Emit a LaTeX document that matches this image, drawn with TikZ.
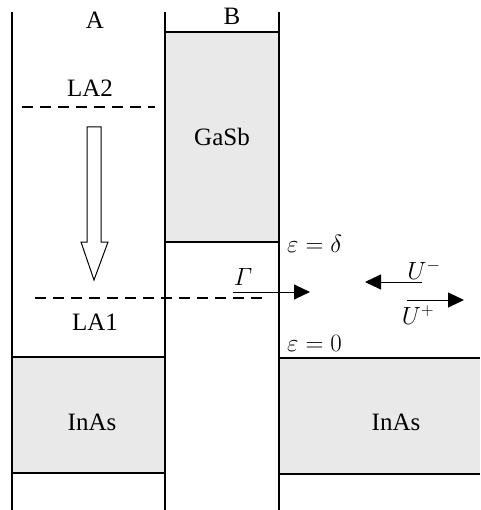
\documentclass[tikz,border=0pt]{standalone}
\usepackage{amsmath}
\usepackage{fontspec}
\setmainfont{Liberation Serif}
\usetikzlibrary{arrows.meta}

\begin{document}
\begin{tikzpicture}[x=1pt, y=-1pt,
  layer/.style={fill=gray!17},
  wall/.style={line width=1.6pt},
  level/.style={line width=1.8pt, dash pattern=on 11pt off 7pt},
  lbl/.style={font=\fontsize{25}{28}\selectfont, inner sep=0pt},
  flux/.style={-{Triangle[length=16pt, width=15pt]}, line width=0.9pt}]
  \useasboundingbox (0,0) rectangle (480,510);
  % gray bands
  \fill[layer] (165,32) rectangle (279,242);
  \fill[layer] (12,357) rectangle (165,473);
  \fill[layer] (279,358) rectangle (480,474);
  \draw[wall] (165,32) -- (279,32) (165,242) -- (279,242);
  \draw[wall] (12,357) -- (165,357) (12,473) -- (165,473);
  \draw[wall] (279,358) -- (480,358) (279,474) -- (480,474);
  % walls
  \foreach \x in {12,165,279}
    \draw[wall] (\x,12) -- (\x,510);
  % levels
  \draw[level] (22,107) -- (155,107);
  \draw[level] (35,298) -- (263,298);
  % hollow arrow
  \draw[line width=1pt, fill=white] (87,127) -- (101,127) -- (101,242) -- (108,242)
    -- (94,280) -- (81,242) -- (87,242) -- cycle;
  % labels
  \node[lbl] (a) at (95,20) {A};
  \node[lbl] (b) at (232,16) {B};
  \node[lbl] (gasb) at (222,137) {GaSb};
  \node[lbl] (la2) at (90,88) {LA2};
  \node[lbl] (la1) at (95,322) {LA1};
  \node[lbl] (inasl) at (92,422) {InAs};
  \node[lbl] (inasr) at (396,422) {InAs};
  \node[lbl, anchor=west] (delta) at (287,244) {$\varepsilon=\delta$};
  \node[lbl, anchor=west] (zero) at (287,343) {$\varepsilon=0$};
  \node[lbl] (gam) at (243,277) {$\varGamma$};
  \node[lbl] (um) at (424,270) {$U^{-}$};
  \node[lbl] (up) at (418,315) {$U^{+}$};
  % fluxes
  \coordinate (g0) at (233,292);
  \coordinate (g1) at (310,292);
  \coordinate (m0) at (422,282);
  \coordinate (m1) at (365,282);
  \coordinate (p0) at (407,300);
  \coordinate (p1) at (464,300);
  \draw[flux] (g0) -- (g1);
  \draw[flux] (m0) -- (m1);
  \draw[flux] (p0) -- (p1);
\end{tikzpicture}
\end{document}
